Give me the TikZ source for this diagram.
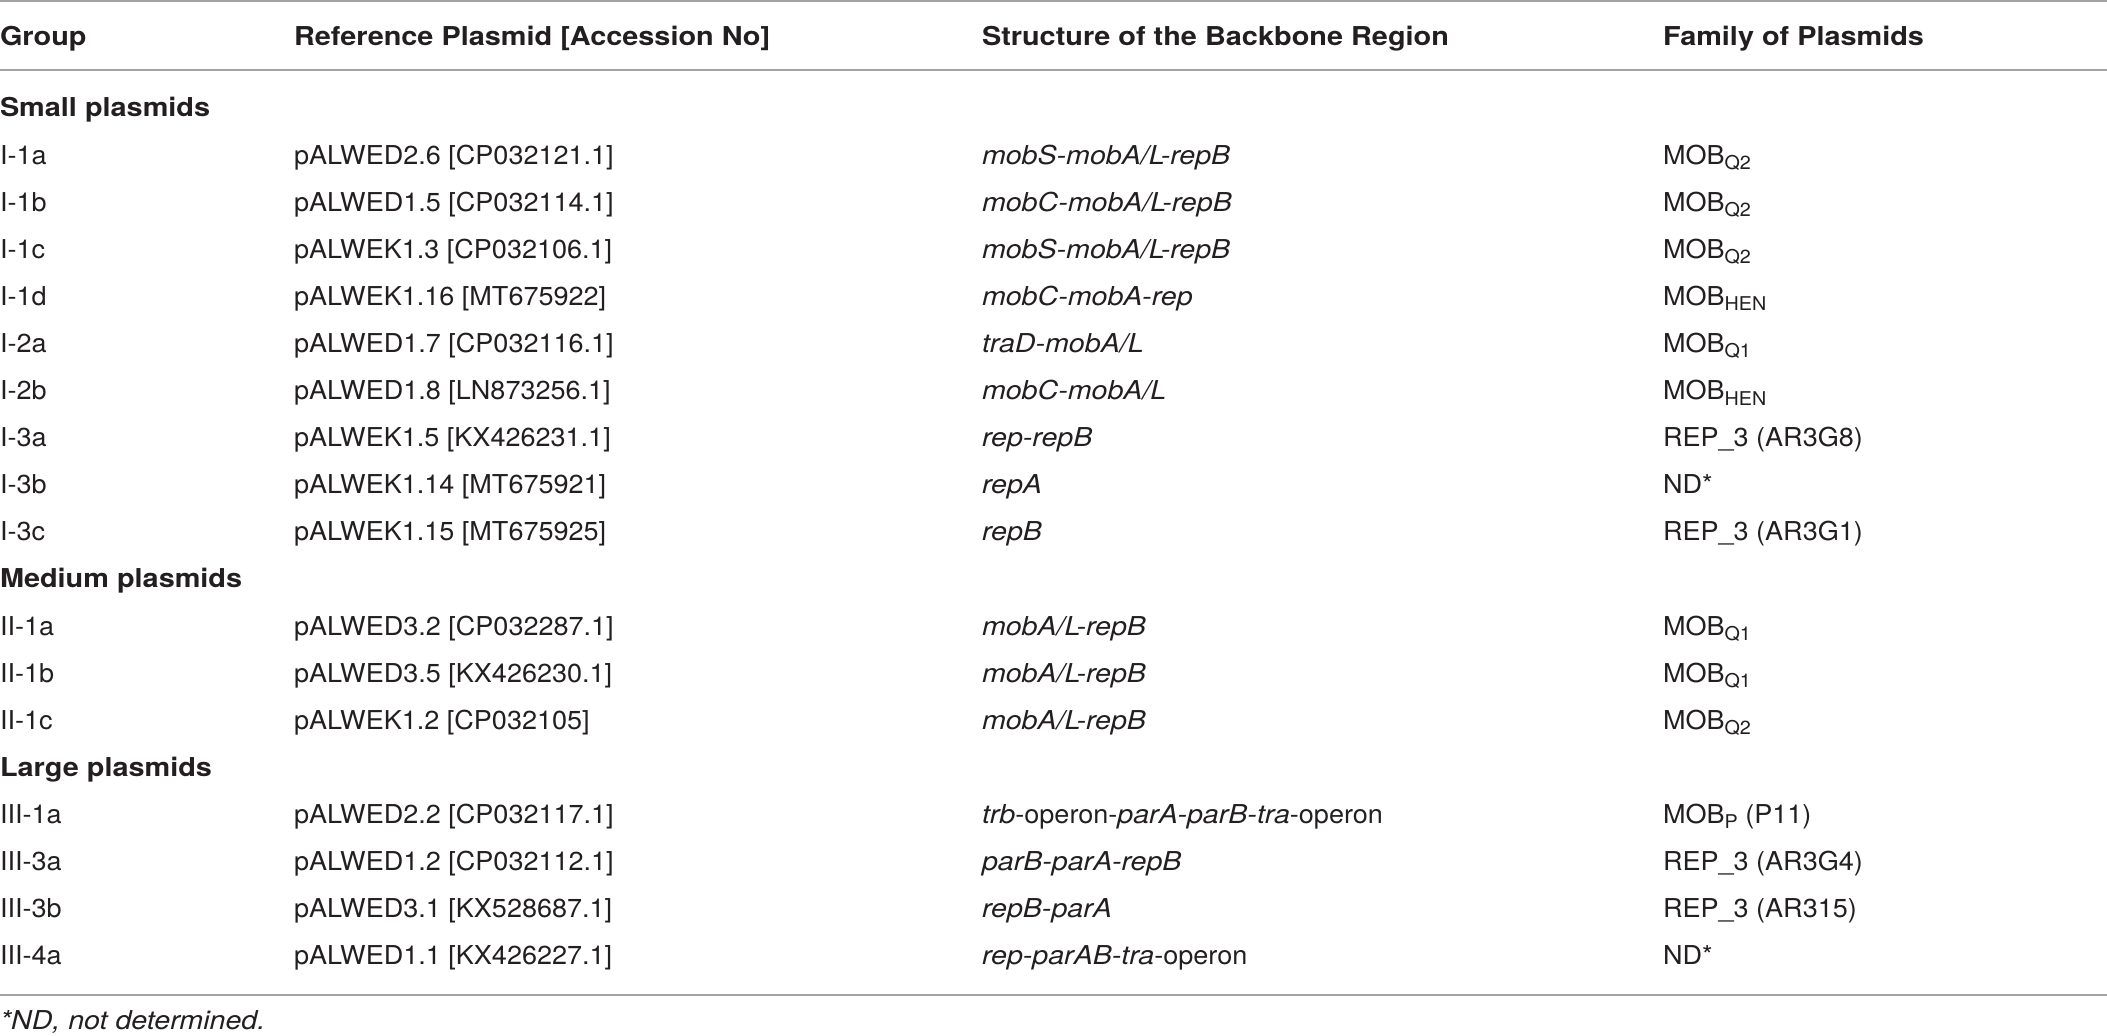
\documentclass[tikz,border=0pt]{standalone}
\usepackage{fontspec}
\setmainfont{TeX Gyre Heros}[FakeStretch=1.04]
\newfontfamily\headfont{TeX Gyre Heros}[FakeStretch=1.11]
\newfontfamily\itfont{TeX Gyre Heros}[FakeStretch=1.1]
\definecolor{ink}{HTML}{231F20}
\definecolor{rulegray}{HTML}{A3A3A3}
\newcommand\sbs[1]{\raisebox{-0.4ex}{\fontsize{9.5}{9.5}\selectfont #1}}
\newcommand\gi[1]{{\itfont\itshape #1}}
\begin{document}
\begin{tikzpicture}[x=0.5pt,y=0.5pt,
  cell/.style={anchor=base west,inner sep=0pt,outer sep=0pt,text=ink,font=\fontsize{13}{15}\selectfont},
  headcell/.style={cell,font=\fontsize{13}{15}\selectfont\headfont\bfseries},
  hrule/.style={draw=rulegray,line width=1pt}]
\useasboundingbox (0,0) rectangle (2107,-1036);
% rules
\coordinate (t0) at (0,-1);    \coordinate (t1) at (2107,-1);
\coordinate (h0) at (0,-70);   \coordinate (h1) at (2107,-70);
\coordinate (b0) at (0,-995);  \coordinate (b1) at (2107,-995);
\draw[hrule] (t0) -- (t1);
\draw[hrule] (h0) -- (h1);
\draw[hrule] (b0) -- (b1);
% header
\node[headcell] (hg) at (0,-46) {Group};
\node[headcell] (hr) at (294,-46) {Reference Plasmid [Accession No]};
\node[headcell] (hs) at (982,-46) {Structure of the Backbone Region};
\node[headcell] (hf) at (1663,-46) {Family of Plasmids};
% section headings
\node[headcell] (sec1) at (0,{-(117+47.1*0)}) {Small plasmids};
\node[headcell] (sec2) at (0,{-(117+47.1*10)}) {Medium plasmids};
\node[headcell] (sec3) at (0,{-(117+47.1*14)}) {Large plasmids};
% rows
\newcommand\prow[5]{%
  \node[cell] (g#1) at (0,{-(117+47.1*#1)}) {#2};
  \node[cell] (r#1) at (294,{-(117+47.1*#1)}) {#3};
  \node[cell] (s#1) at (982,{-(117+47.1*#1)}) {#4};
  \node[cell] (f#1) at (1663,{-(117+47.1*#1)}) {#5};}
\prow{1}{I-1a}{pALWED2.6 [CP032121.1]}{\gi{mobS-mobA/L-repB}}{MOB\sbs{Q2}}
\prow{2}{I-1b}{pALWED1.5 [CP032114.1]}{\gi{mobC-mobA/L-repB}}{MOB\sbs{Q2}}
\prow{3}{I-1c}{pALWEK1.3 [CP032106.1]}{\gi{mobS-mobA/L-repB}}{MOB\sbs{Q2}}
\prow{4}{I-1d}{pALWEK1.16 [MT675922]}{\gi{mobC-mobA-rep}}{MOB\sbs{HEN}}
\prow{5}{I-2a}{pALWED1.7 [CP032116.1]}{\gi{traD-mobA/L}}{MOB\sbs{Q1}}
\prow{6}{I-2b}{pALWED1.8 [LN873256.1]}{\gi{mobC-mobA/L}}{MOB\sbs{HEN}}
\prow{7}{I-3a}{pALWEK1.5 [KX426231.1]}{\gi{rep-repB}}{REP\_3 (AR3G8)}
\prow{8}{I-3b}{pALWEK1.14 [MT675921]}{\gi{repA}}{ND*}
\prow{9}{I-3c}{pALWEK1.15 [MT675925]}{\gi{repB}}{REP\_3 (AR3G1)}
\prow{11}{II-1a}{pALWED3.2 [CP032287.1]}{\gi{mobA/L-repB}}{MOB\sbs{Q1}}
\prow{12}{II-1b}{pALWED3.5 [KX426230.1]}{\gi{mobA/L-repB}}{MOB\sbs{Q1}}
\prow{13}{II-1c}{pALWEK1.2 [CP032105]}{\gi{mobA/L-repB}}{MOB\sbs{Q2}}
\prow{15}{III-1a}{pALWED2.2 [CP032117.1]}{\gi{trb}-operon-\gi{parA-parB-tra}-operon}{MOB\sbs{P} (P11)}
\prow{16}{III-3a}{pALWED1.2 [CP032112.1]}{\gi{parB-parA-repB}}{REP\_3 (AR3G4)}
\prow{17}{III-3b}{pALWED3.1 [KX528687.1]}{\gi{repB-parA}}{REP\_3 (AR315)}
\prow{18}{III-4a}{pALWED1.1 [KX426227.1]}{\gi{rep-parAB-tra}-operon}{ND*}
% footnote
\node[cell] (fn) at (0,-1029) {\gi{*ND, not determined.}};
\end{tikzpicture}
\end{document}
